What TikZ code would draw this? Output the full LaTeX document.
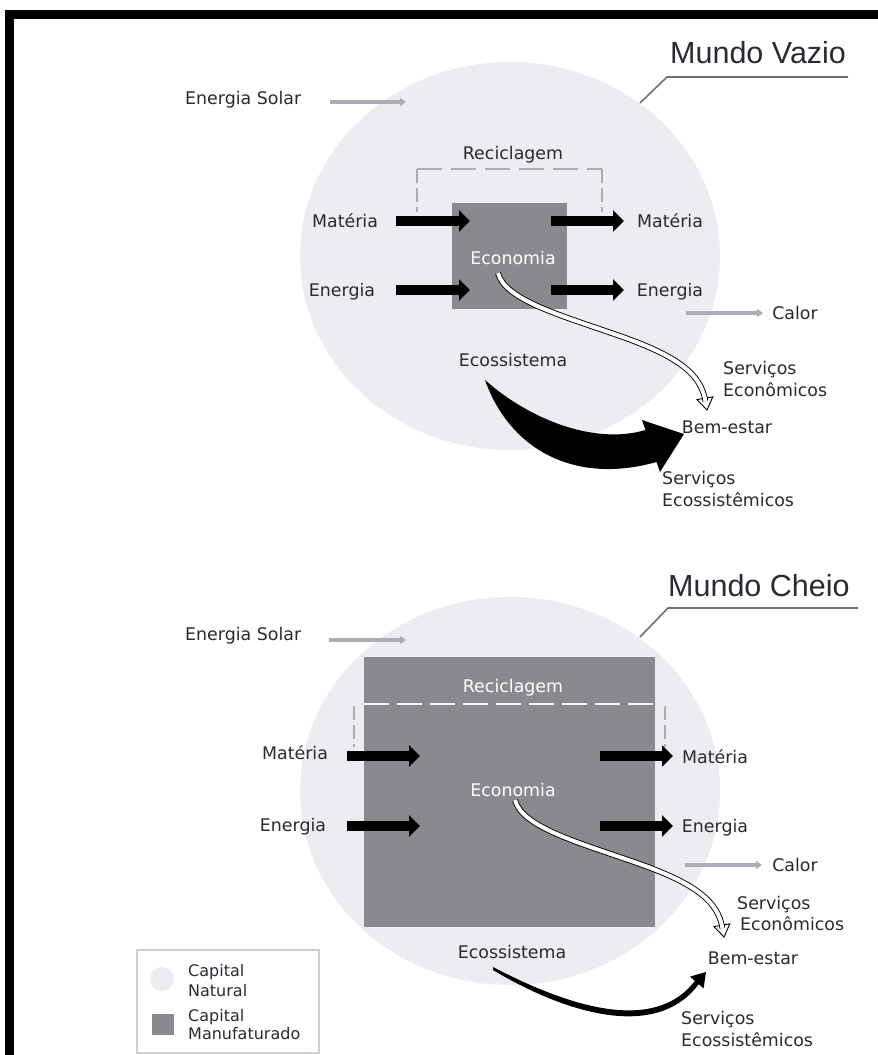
\documentclass[tikz,border=0pt]{standalone}
\usepackage{fontspec}
\setmainfont{DejaVu Sans}
\newfontfamily\titlefont{Liberation Sans}
\usetikzlibrary{arrows.meta}
\definecolor{natcol}{RGB}{236,236,241}
\definecolor{mancol}{RGB}{139,137,141}
\definecolor{txtcol}{RGB}{45,40,50}
\definecolor{lgray}{RGB}{172,172,180}
\definecolor{dgray}{RGB}{110,112,115}
\definecolor{legcol}{RGB}{205,205,215}
\begin{document}
\begin{tikzpicture}[x=1pt,y=-1pt,
  lbl/.style={font=\fontsize{17.4}{21}\selectfont, text=txtcol, inner sep=0pt, anchor=base},
  lblw/.style={lbl, anchor=base west},
  wlbl/.style={lbl, text=white},
  leglbl/.style={font=\fontsize{16}{19}\selectfont, text=txtcol, inner sep=0pt, anchor=base west},
  titlelbl/.style={font=\titlefont\fontsize{30.5}{34}\selectfont, text=txtcol, inner sep=0pt, anchor=base west},
  flow/.style={line width=10.5pt, -{Triangle[length=11pt,width=21pt]}},
  sunarrow/.style={line width=4pt, draw=lgray, -{Triangle[length=6pt,width=8pt]}},
  leader/.style={draw=dgray, line width=1.6pt},
  bracket/.style={draw=lgray, line width=1.6pt, dash pattern=on 25pt off 9pt},
  vbracket/.style={draw=lgray, line width=1.4pt, dash pattern=on 14pt off 5pt},
  wdash/.style={draw=white!92!mancol, line width=2pt, dash pattern=on 25pt off 8pt},
  econarrow/.style={line width=0.9pt, draw=black, double=white, double distance=4pt},
  econhead/.style={fill=white, draw=black, line width=0.9pt, line join=miter},
]
\useasboundingbox (0,0) rectangle (878,1055);
\fill[white] (0,0) rectangle (878,1055);
% black frame
\fill[black] (5,10) rectangle (878,19);
\fill[black] (5,10) rectangle (14,1055);

% ================= MUNDO VAZIO =================
\fill[natcol] (510,256) ellipse [x radius=210, y radius=194];
\fill[mancol] (452,203) rectangle (567,309);
\draw[bracket] (417,169) -- (602,169);
\draw[vbracket] (417,169) -- (417,212);
\draw[vbracket] (602,169) -- (602,212);

\node[titlelbl] (mv) at (670,63) {Mundo Vazio};
\draw[leader] (640,103) -- (667,77) -- (848,77);

\node[lblw] (sol1) at (185,104) {Energia Solar};
\coordinate (sol1a) at (330,102);
\coordinate (sol1b) at (406,102);
\draw[sunarrow] (sol1a) -- (sol1b);

\node[lbl] (rec1) at (513,159) {Reciclagem};
\node[wlbl] (eco1) at (513,264) {Economia};
\node[lbl] (matL1) at (345,227) {Matéria};
\node[lbl] (matR1) at (670,227) {Matéria};
\node[lbl] (enL1) at (342,296) {Energia};
\node[lbl] (enR1) at (670,296) {Energia};
\draw[flow] (396,221) -- (470,221);
\draw[flow] (551,221) -- (624,221);
\draw[flow] (396,290) -- (470,290);
\draw[flow] (551,290) -- (624,290);

\node[lbl] (cal1) at (795,319) {Calor};
\draw[sunarrow] (686,313) -- (763,313);

\node[lbl] (ecs1) at (513,366) {Ecossistema};
\node[lblw] (se1a) at (723,374) {Serviços};
\node[lblw] (se1b) at (723,396) {Econômicos};
\node[lbl] (bem1) at (727,433) {Bem-estar};
\node[lblw] (ss1a) at (662,484) {Serviços};
\node[lblw] (ss1b) at (662,506) {Ecossistêmicos};

% economic services arrow
\begin{scope}
\filldraw[econhead] (697,399.6) -- (707,410) -- (712.8,396.8) -- cycle;
\draw[econarrow] (498,273) .. controls (505,300) and (560,315) .. (620,336)
   .. controls (680,357) and (701,375) .. (705.4,401);
\end{scope}
% ecosystem services arrow (big)
\fill[black] (485,380) .. controls (530,420) and (595,445) .. (645.5,430)
   -- (642,420) -- (684,434) -- (660,472) -- (656.5,462)
   .. controls (575,485) and (510,450) .. (485,380) -- cycle;

% ================= MUNDO CHEIO =================
\fill[natcol] (510,791) ellipse [x radius=210, y radius=194];
\fill[mancol] (364,657) rectangle (655,927);
\draw[wdash] (364,704) -- (655,704);
\draw[vbracket] (354,706) -- (354,747);
\draw[vbracket] (665,706) -- (665,747);

\node[titlelbl] (mc) at (668,596) {Mundo Cheio};
\draw[leader] (640,637) -- (668,608) -- (858,608);

\node[lblw] (sol2) at (185,640) {Energia Solar};
\coordinate (sol2a) at (329,640);
\coordinate (sol2b) at (406,640);
\draw[sunarrow] (sol2a) -- (sol2b);

\node[wlbl] (rec2) at (513,692) {Reciclagem};
\node[wlbl] (eco2) at (513,796) {Economia};
\node[lbl] (matL2) at (295,759) {Matéria};
\node[lbl] (matR2) at (715,763) {Matéria};
\node[lbl] (enL2) at (293,831) {Energia};
\node[lbl] (enR2) at (715,832) {Energia};
\draw[flow] (347,756) -- (420,756);
\draw[flow] (600,756) -- (673,756);
\draw[flow] (347,826) -- (420,826);
\draw[flow] (600,826) -- (673,826);

\node[lbl] (cal2) at (795,871) {Calor};
\draw[sunarrow] (685,865) -- (762,865);

\node[lbl] (ecs2) at (512,958) {Ecossistema};
\node[lblw] (se2a) at (737,909) {Serviços};
\node[lblw] (se2b) at (740,930) {Econômicos};
\node[lbl] (bem2) at (753,964) {Bem-estar};
\node[lblw] (ss2a) at (681,1024) {Serviços};
\node[lblw] (ss2b) at (681,1046) {Ecossistêmicos};

\begin{scope}[shift={(17,527)}]
\filldraw[econhead] (697,399.6) -- (707,410) -- (712.8,396.8) -- cycle;
\draw[econarrow] (498,273) .. controls (505,300) and (560,315) .. (620,336)
   .. controls (680,357) and (701,375) .. (705.4,401);
\end{scope}
\fill[black] (493,967) .. controls (560,1002) and (652,1037) .. (694.9,980.9)
   -- (690,976.6) -- (706,972) -- (703.6,988.4) -- (698.7,984.2)
   .. controls (654,1044) and (558,1009) .. (493,970) -- cycle;

% ================= LEGEND =================
\draw[draw=legcol, line width=1.5pt] (137,950) rectangle (319,1053);
\fill[natcol] (162,979) circle [radius=12];
\fill[mancol] (152,1014) rectangle (174,1035);
\node[leglbl] (lg1a) at (188,976) {Capital};
\node[leglbl] (lg1b) at (188,996) {Natural};
\node[leglbl] (lg2a) at (188,1021) {Capital};
\node[leglbl] (lg2b) at (188,1039) {Manufaturado};
\end{tikzpicture}
\end{document}
